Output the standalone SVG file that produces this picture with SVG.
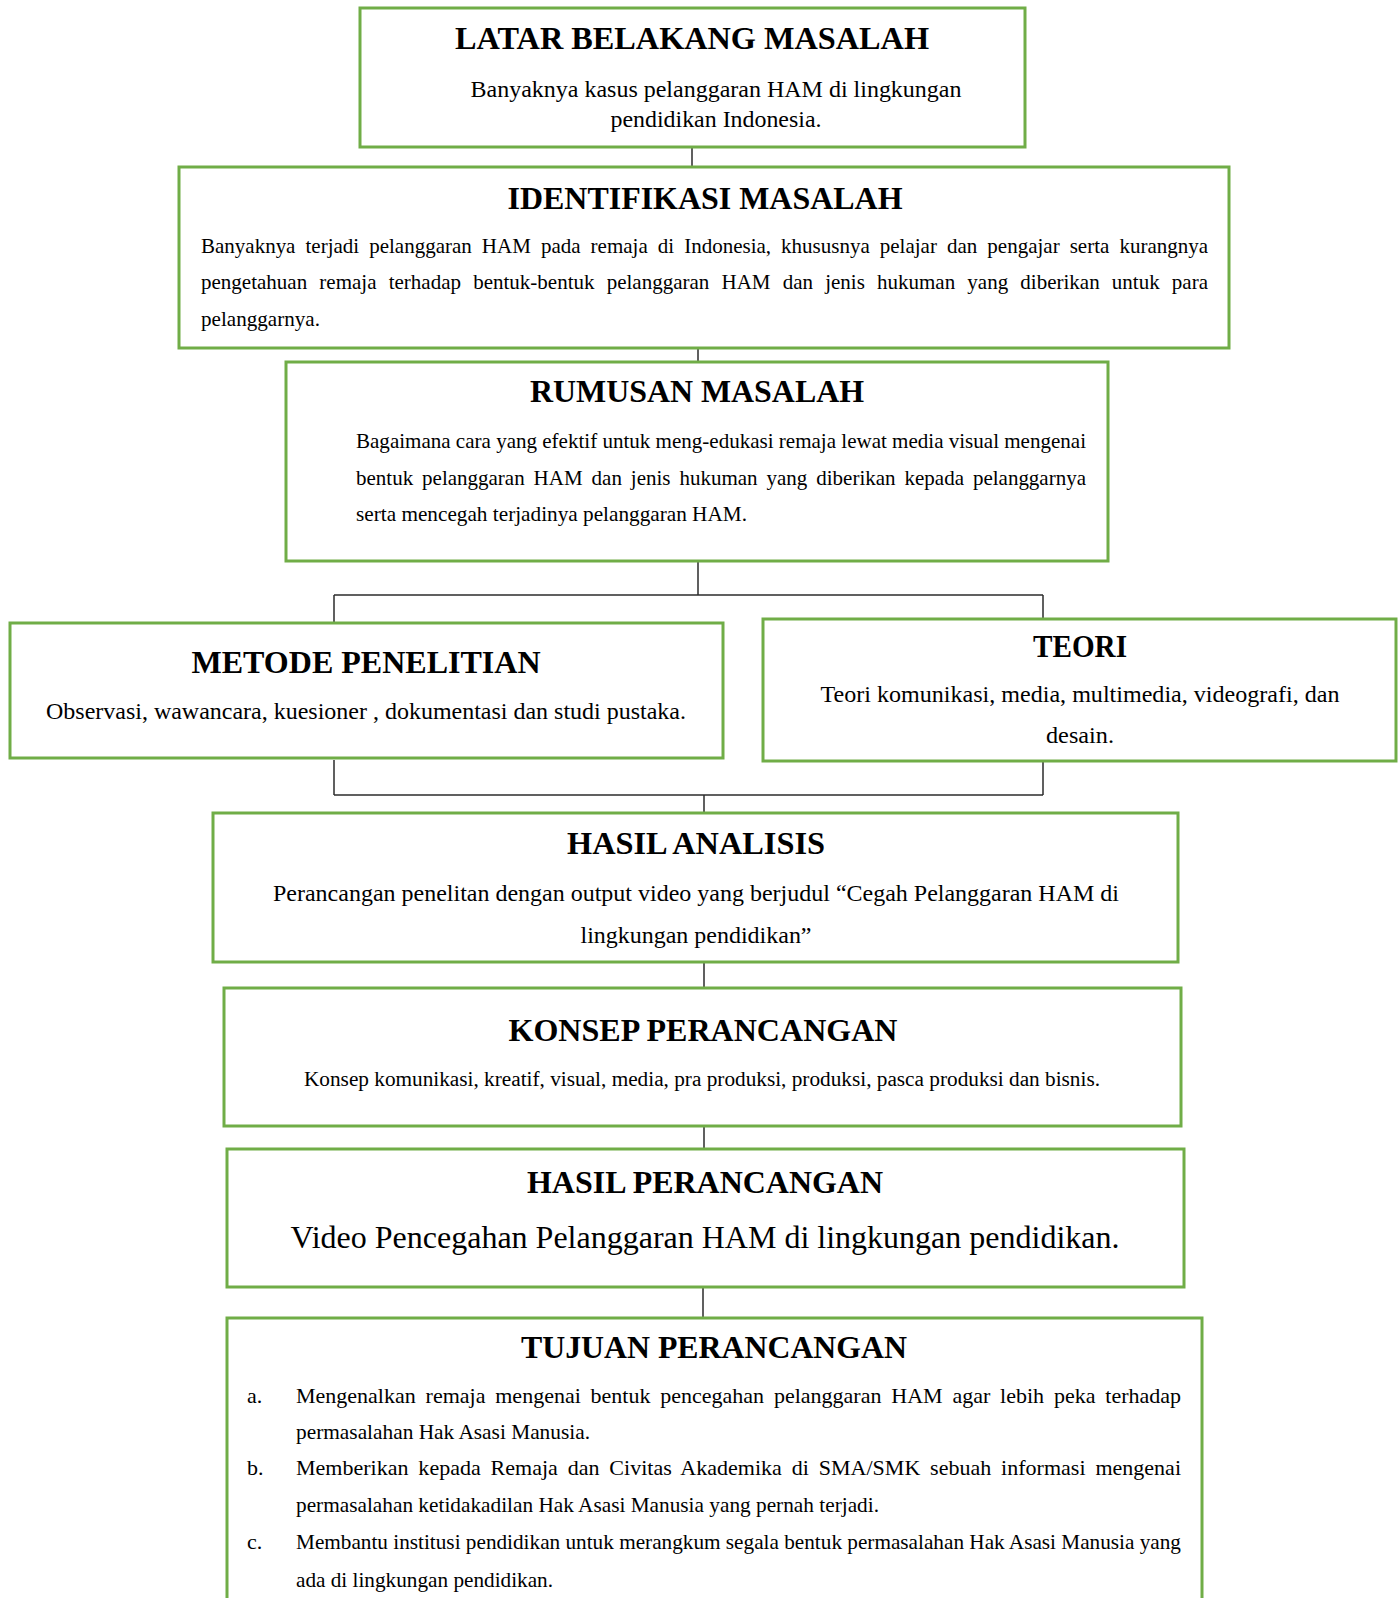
<svg xmlns="http://www.w3.org/2000/svg" width="1400" height="1598" viewBox="0 0 1400 1598">
<style>
.box{fill:#fff;stroke:#70AD47;stroke-width:3}
.con{stroke:#2b2b2b;stroke-width:1.5;fill:none}
.t{font-family:"Liberation Serif","Times New Roman",serif;font-weight:bold;font-size:32px;fill:#000;text-anchor:middle}
.b{font-family:"Liberation Serif","Times New Roman",serif;fill:#000}
.c{text-anchor:middle}
</style>
<rect width="1400" height="1598" fill="#fff"/>
<g id="connectors">
<line class="con" x1="692" y1="140" x2="692" y2="167"/>
<line class="con" x1="698" y1="334" x2="698" y2="362"/>
<line class="con" x1="698" y1="561" x2="698" y2="595"/>
<line class="con" x1="334" y1="595" x2="1043" y2="595"/>
<line class="con" x1="334" y1="595" x2="334" y2="623"/>
<line class="con" x1="1043" y1="595" x2="1043" y2="619"/>
<line class="con" x1="334" y1="760" x2="334" y2="795"/>
<line class="con" x1="1043" y1="761" x2="1043" y2="795"/>
<line class="con" x1="334" y1="795" x2="1043" y2="795"/>
<line class="con" x1="704" y1="795" x2="704" y2="813"/>
<line class="con" x1="704" y1="962" x2="704" y2="988"/>
<line class="con" x1="704" y1="1126" x2="704" y2="1149"/>
<line class="con" x1="703" y1="1287" x2="703" y2="1318"/>
</g>
<g id="latar">
<rect class="box" x="360" y="8" width="665" height="139"/>
<text class="t" x="692" y="49" textLength="474" lengthAdjust="spacingAndGlyphs">LATAR BELAKANG MASALAH</text>
<text class="b c" x="716" y="97" font-size="24" textLength="491" lengthAdjust="spacingAndGlyphs">Banyaknya kasus pelanggaran HAM di lingkungan</text>
<text class="b c" x="716" y="127" font-size="24" textLength="211" lengthAdjust="spacingAndGlyphs">pendidikan Indonesia.</text>
</g>
<g id="identifikasi">
<rect class="box" x="179" y="167" width="1050" height="181"/>
<text class="t" x="705" y="209" textLength="395" lengthAdjust="spacingAndGlyphs">IDENTIFIKASI MASALAH</text>
<text class="b" x="201" y="253" font-size="21" word-spacing="4.8" textLength="1007" lengthAdjust="spacing">Banyaknya terjadi pelanggaran HAM pada remaja di Indonesia, khususnya pelajar dan pengajar serta kurangnya</text>
<text class="b" x="201" y="289" font-size="21" word-spacing="6.9" textLength="1007" lengthAdjust="spacing">pengetahuan remaja terhadap bentuk-bentuk pelanggaran HAM dan jenis hukuman yang diberikan untuk para</text>
<text class="b" x="201" y="326" font-size="21" textLength="119" lengthAdjust="spacingAndGlyphs">pelanggarnya.</text>
</g>
<g id="rumusan">
<rect class="box" x="286" y="362" width="822" height="199"/>
<text class="t" x="697" y="402" textLength="334" lengthAdjust="spacingAndGlyphs">RUMUSAN MASALAH</text>
<text class="b" x="356" y="448" font-size="21" textLength="730" lengthAdjust="spacingAndGlyphs">Bagaimana cara yang efektif untuk meng-edukasi remaja lewat media visual mengenai</text>
<text class="b" x="356" y="485" font-size="21" word-spacing="3.7" textLength="730" lengthAdjust="spacing">bentuk pelanggaran HAM dan jenis hukuman yang diberikan kepada pelanggarnya</text>
<text class="b" x="356" y="521" font-size="21" textLength="391" lengthAdjust="spacingAndGlyphs">serta mencegah terjadinya pelanggaran HAM.</text>
</g>
<g id="metode">
<rect class="box" x="10" y="623" width="713" height="135"/>
<text class="t" x="366" y="673" textLength="349" lengthAdjust="spacingAndGlyphs">METODE PENELITIAN</text>
<text class="b c" x="366" y="719" font-size="24" textLength="640" lengthAdjust="spacingAndGlyphs">Observasi, wawancara, kuesioner , dokumentasi dan studi pustaka.</text>
</g>
<g id="teori">
<rect class="box" x="763" y="619" width="633" height="142"/>
<text class="t" x="1080" y="657" font-size="30" textLength="94" lengthAdjust="spacingAndGlyphs">TEORI</text>
<text class="b c" x="1080" y="702" font-size="24" textLength="519" lengthAdjust="spacingAndGlyphs">Teori komunikasi, media, multimedia, videografi, dan</text>
<text class="b c" x="1080" y="743" font-size="24" textLength="68" lengthAdjust="spacingAndGlyphs">desain.</text>
</g>
<g id="hasil-analisis">
<rect class="box" x="213" y="813" width="965" height="149"/>
<text class="t" x="696" y="854" textLength="258" lengthAdjust="spacingAndGlyphs">HASIL ANALISIS</text>
<text class="b c" x="696" y="901" font-size="24" textLength="846" lengthAdjust="spacingAndGlyphs">Perancangan penelitan dengan output video yang berjudul “Cegah Pelanggaran HAM di</text>
<text class="b c" x="696" y="943" font-size="24" textLength="231" lengthAdjust="spacingAndGlyphs">lingkungan pendidikan”</text>
</g>
<g id="konsep">
<rect class="box" x="224" y="988" width="957" height="138"/>
<text class="t" x="703" y="1041" textLength="389" lengthAdjust="spacingAndGlyphs">KONSEP PERANCANGAN</text>
<text class="b c" x="702" y="1086" font-size="20" textLength="796" lengthAdjust="spacingAndGlyphs">Konsep komunikasi, kreatif, visual, media, pra produksi, produksi, pasca produksi dan bisnis.</text>
</g>
<g id="hasil-perancangan">
<rect class="box" x="227" y="1149" width="957" height="138"/>
<text class="t" x="705" y="1193" textLength="356" lengthAdjust="spacingAndGlyphs">HASIL PERANCANGAN</text>
<text class="b c" x="705" y="1248" font-size="31" textLength="829" lengthAdjust="spacingAndGlyphs">Video Pencegahan Pelanggaran HAM di lingkungan pendidikan.</text>
</g>
<g id="tujuan">
<rect class="box" x="227" y="1318" width="975" height="300"/>
<text class="t" x="714" y="1358" textLength="386" lengthAdjust="spacingAndGlyphs">TUJUAN PERANCANGAN</text>
<text class="b" x="247" y="1403" font-size="22">a.</text>
<text class="b" x="296" y="1403" font-size="22" word-spacing="4.3" textLength="885" lengthAdjust="spacing">Mengenalkan remaja mengenai bentuk pencegahan pelanggaran HAM agar lebih peka terhadap</text>
<text class="b" x="296" y="1439" font-size="22" textLength="294" lengthAdjust="spacingAndGlyphs">permasalahan Hak Asasi Manusia.</text>
<text class="b" x="247" y="1475" font-size="22">b.</text>
<text class="b" x="296" y="1475" font-size="22" word-spacing="4.3" textLength="885" lengthAdjust="spacing">Memberikan kepada Remaja dan Civitas Akademika di SMA/SMK sebuah informasi mengenai</text>
<text class="b" x="296" y="1512" font-size="22" textLength="583" lengthAdjust="spacingAndGlyphs">permasalahan ketidakadilan Hak Asasi Manusia yang pernah terjadi.</text>
<text class="b" x="247" y="1549" font-size="22">c.</text>
<text class="b" x="296" y="1549" font-size="22" textLength="885" lengthAdjust="spacingAndGlyphs">Membantu institusi pendidikan untuk merangkum segala bentuk permasalahan Hak Asasi Manusia yang</text>
<text class="b" x="296" y="1587" font-size="22" textLength="257" lengthAdjust="spacingAndGlyphs">ada di lingkungan pendidikan.</text>
</g>
</svg>
